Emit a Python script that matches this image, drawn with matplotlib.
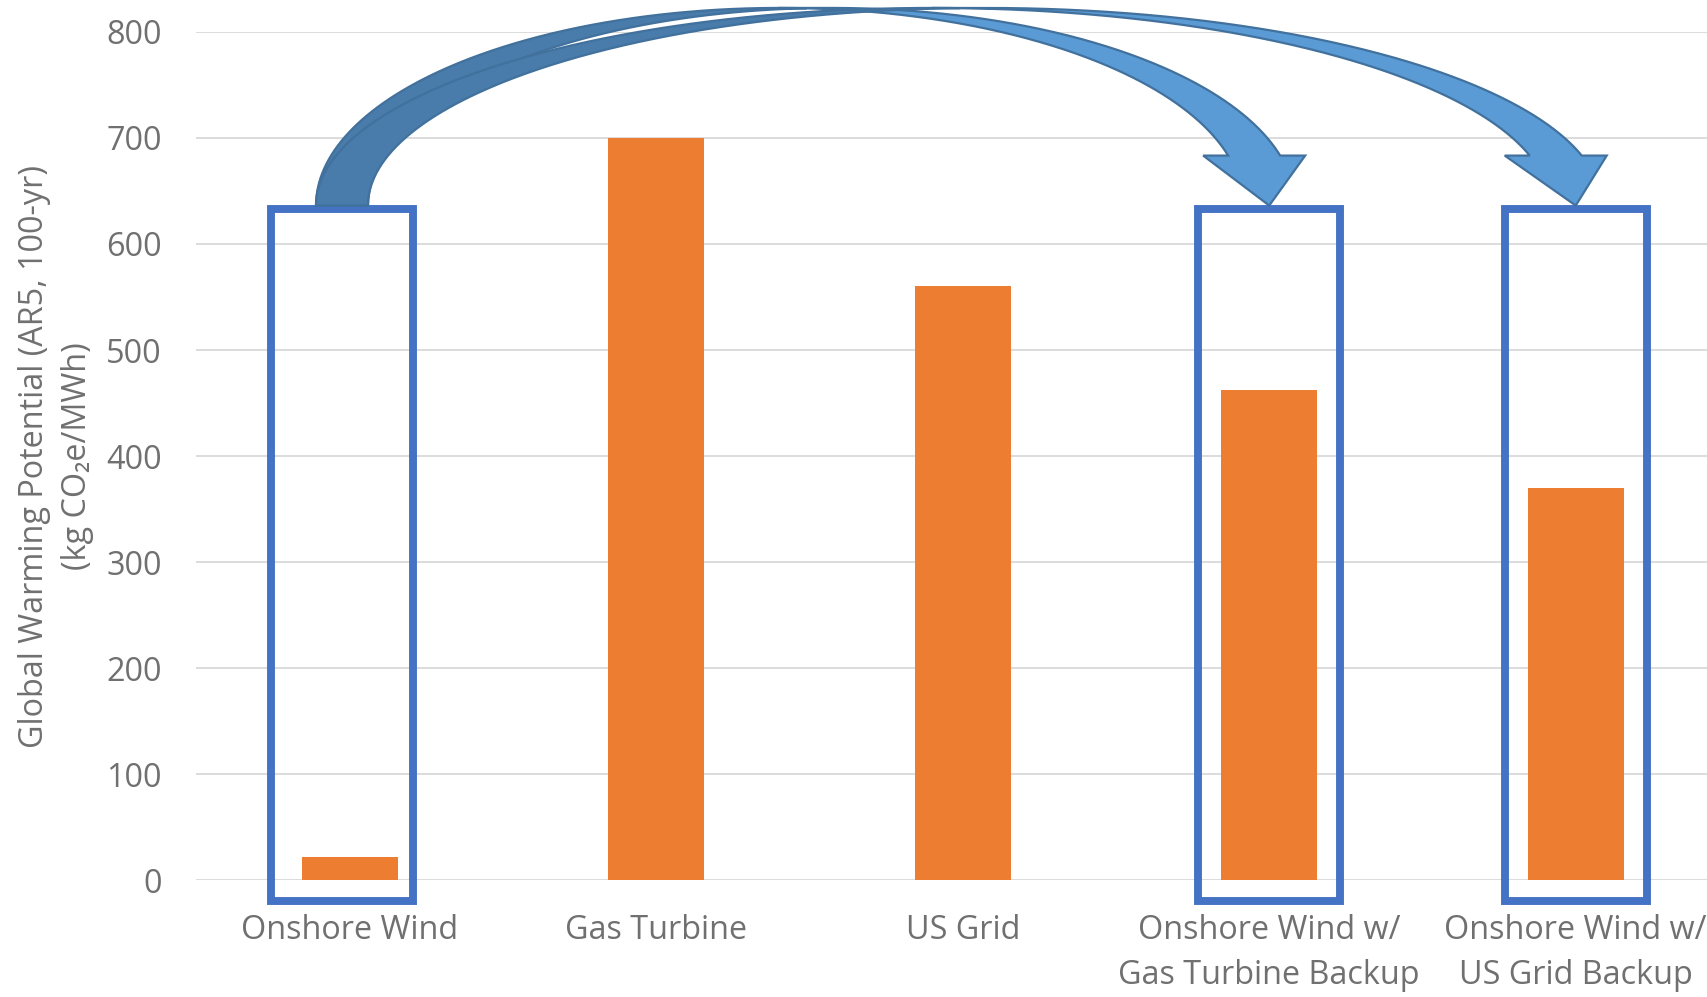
import matplotlib
matplotlib.use('Agg')
import matplotlib.pyplot as plt
import numpy as np
from matplotlib.patches import Polygon, Rectangle

# Life-cycle GWP per MWh for each generation option
categories = ['Onshore Wind', 'Gas Turbine', 'US Grid',
              'Onshore Wind w/\nGas Turbine Backup', 'Onshore Wind w/\nUS Grid Backup']
gwp = [22, 700, 560, 462, 370]
yticks = [0, 100, 200, 300, 400, 500, 600, 700, 800]

boxed = [0, 3, 4]          # categories outlined in blue
arrow_from = 0             # the wind-only box...
arrow_to = [3, 4]          # ...points at the two backup cases

BAR = '#ED7D31'
BOX = '#4472C4'
ARROW = '#5B9BD5'
ARROW_DARK = '#497CAA'
ARROW_EDGE = '#41719C'
TEXT = '#707070'
GRID = '#D9D9D9'

plt.rcParams['font.family'] = ['Open Sans', 'DejaVu Sans']
FS = 23.3

fig = plt.figure(figsize=(17.08, 9.97), dpi=100)
ax = fig.add_axes([0.115, 0.117, 0.8973, 0.8511])

x = np.arange(len(categories))
ax.bar(x, gwp, width=0.313, color=BAR, zorder=2)
ax.set_xlim(-0.5, len(categories) - 0.5)
ax.set_ylim(0, 800)
ax.set_yticks(yticks)
ax.set_xticks(x)
ax.set_xticklabels(categories, linespacing=1.5)
ax.tick_params(axis='both', length=0, labelsize=FS, labelcolor=TEXT)
ax.tick_params(axis='y', pad=25)
ax.tick_params(axis='x', pad=24)
ax.yaxis.grid(True, color=GRID, lw=1.3)
ax.set_axisbelow(True)
for s in ax.spines.values():
    s.set_visible(False)

fig.text(0.0325, 0.5426, 'Global Warming Potential (AR5, 100-yr)\n(kg CO\u2082e/MWh)',
         rotation=90, ha='center', va='center', multialignment='center',
         fontsize=FS, color=TEXT, linespacing=1.4)

# blue highlight boxes
box_w = 0.463
box_lo, box_hi = -19.5, 632.5
box_shift = {0: -0.025}
box_lw = 5.7
for i in boxed:
    cx = i + box_shift.get(i, 0)
    ax.add_patch(Rectangle((cx - box_w / 2, box_lo), box_w, box_hi - box_lo,
                           fill=False, ec=BOX, lw=box_lw, joinstyle='miter',
                           clip_on=False, zorder=3))


def curved_down_arrow(ax, foot_x, tip_x, base, top, th, aw, ah, zorder):
    """Office-style curved down arrow: a ribbon rising from foot_x, twisting
    over the top and ending in a head whose tip sits at (tip_x, base)."""
    l = foot_x - th / 2
    r = tip_x + aw / 2
    h = top - base
    wr = (r - l) / 2 - (th + aw) / 4
    c1 = l + wr
    c2 = l + th + wr

    def arc(cx, a0, a1, n=200):
        t = np.linspace(a0, a1, n)
        return np.column_stack([cx + wr * np.cos(t), base + h * np.sin(t)])

    ph = np.arcsin(ah / h)
    dh = (aw - th) / 2
    y1 = base + ah
    x5 = c1 + wr * np.cos(ph)
    x7 = c2 + wr * np.cos(ph)
    head = np.array([[x7 + dh, y1], [tip_x, base], [x5 - dh, y1], [x5, y1]])

    front = np.vstack([arc(c1, ph, np.pi / 2), arc(c2, np.pi / 2, ph), head])
    phi = np.arccos(th / (2 * wr))
    back = np.vstack([arc(c1, phi, np.pi), arc(c2, np.pi, np.pi - phi)])

    ax.add_patch(Polygon(front, closed=True, fc=ARROW, lw=0,
                         clip_on=False, zorder=zorder))
    ax.add_patch(Polygon(back, closed=True, fc=ARROW_DARK, lw=0,
                         clip_on=False, zorder=zorder))
    edge = np.vstack([arc(c2, np.pi - phi, np.pi), arc(c1, np.pi, np.pi / 2),
                      arc(c2, np.pi / 2, ph), head, arc(c1, ph, np.pi / 2)])
    ax.plot(edge[:, 0], edge[:, 1], color=ARROW_EDGE, lw=1.6,
            solid_joinstyle='miter', clip_on=False, zorder=zorder)


arrow_base = box_hi + 3.7
for k, j in enumerate(arrow_to):
    curved_down_arrow(ax, arrow_from + box_shift.get(arrow_from, 0),
                      j + box_shift.get(j, 0), arrow_base, 822.5,
                      th=0.1697, aw=0.3328, ah=47.1, zorder=4 + k)

fig.savefig('out.png', dpi=100)
